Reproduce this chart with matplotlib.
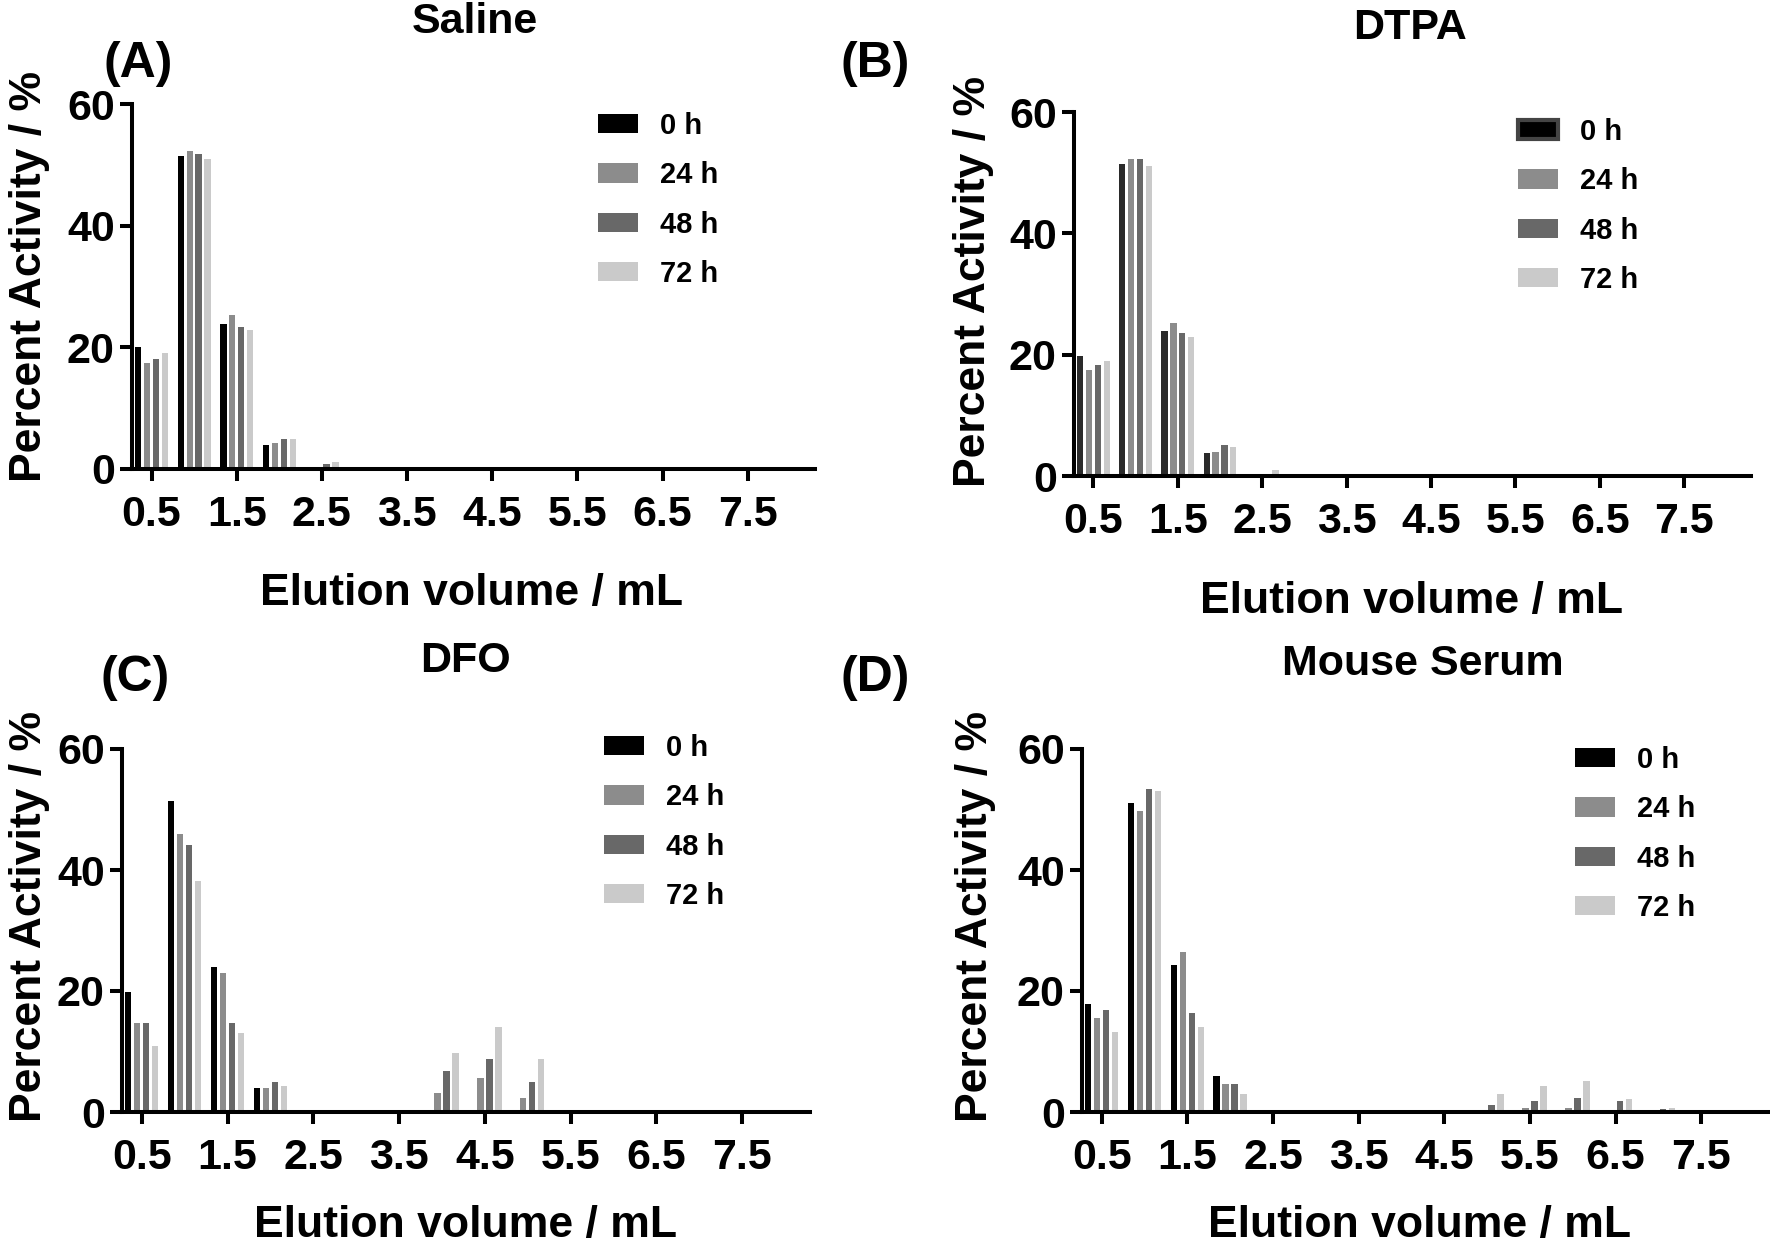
import matplotlib
matplotlib.use("Agg")
import matplotlib.pyplot as plt
import numpy as np

# ---------------- data ----------------
volumes = [0.5, 1.0, 1.5, 2.0, 2.5, 3.0, 3.5, 4.0, 4.5, 5.0, 5.5, 6.0, 6.5, 7.0, 7.5, 8.0]
xtick_vals = [0.5, 1.5, 2.5, 3.5, 4.5, 5.5, 6.5, 7.5]
xtick_labels = ["0.5", "1.5", "2.5", "3.5", "4.5", "5.5", "6.5", "7.5"]
ytick_vals = [0, 20, 40, 60]
series_labels = ["0 h", "24 h", "48 h", "72 h"]

saline_0h  = [20.0, 51.4, 23.9, 3.9, 0, 0, 0, 0, 0, 0, 0, 0, 0, 0, 0, 0]
saline_24h = [17.5, 52.3, 25.3, 4.2, 0, 0, 0, 0, 0, 0, 0, 0, 0, 0, 0, 0]
saline_48h = [18.1, 51.7, 23.4, 4.9, 0.8, 0, 0, 0, 0, 0, 0, 0, 0, 0, 0, 0]
saline_72h = [19.1, 51.0, 22.9, 4.9, 1.1, 0, 0, 0, 0, 0, 0, 0, 0, 0, 0, 0]

dtpa_0h  = [19.8, 51.5, 23.9, 3.8, 0, 0, 0, 0, 0, 0, 0, 0, 0, 0, 0, 0]
dtpa_24h = [17.5, 52.3, 25.2, 4.0, 0, 0, 0, 0, 0, 0, 0, 0, 0, 0, 0, 0]
dtpa_48h = [18.3, 52.3, 23.5, 5.1, 0, 0, 0, 0, 0, 0, 0, 0, 0, 0, 0, 0]
dtpa_72h = [19.0, 51.1, 22.9, 4.8, 1.0, 0, 0, 0, 0, 0, 0, 0, 0, 0, 0, 0]

dfo_0h  = [19.9, 51.4, 23.9, 3.9, 0, 0, 0, 0, 0, 0, 0, 0, 0, 0, 0, 0]
dfo_24h = [14.7, 46.0, 22.9, 3.9, 0, 0, 0, 3.2, 5.7, 2.3, 0, 0, 0, 0, 0, 0]
dfo_48h = [14.7, 44.2, 14.7, 4.9, 0, 0, 0, 6.7, 8.7, 4.9, 0, 0, 0, 0, 0, 0]
dfo_72h = [10.9, 38.2, 13.1, 4.3, 0, 0, 0, 9.7, 14.1, 8.7, 0, 0, 0, 0, 0, 0]

serum_0h  = [17.9, 51.0, 24.3, 5.9, 0, 0, 0, 0, 0, 0, 0, 0, 0, 0, 0, 0]
serum_24h = [15.5, 49.8, 26.4, 4.7, 0, 0, 0, 0, 0, 0, 0.7, 0.7, 0, 0, 0, 0]
serum_48h = [16.8, 53.4, 16.3, 4.7, 0, 0, 0, 0, 0, 1.2, 1.8, 2.3, 1.8, 0.5, 0, 0]
serum_72h = [13.3, 53.0, 14.1, 2.9, 0, 0, 0, 0, 0, 3.0, 4.3, 5.1, 2.1, 0.7, 0, 0]

panels = [
    dict(title="Saline", letter="(A)", data=[saline_0h, saline_24h, saline_48h, saline_72h]),
    dict(title="DTPA", letter="(B)", data=[dtpa_0h, dtpa_24h, dtpa_48h, dtpa_72h]),
    dict(title="DFO", letter="(C)", data=[dfo_0h, dfo_24h, dfo_48h, dfo_72h]),
    dict(title="Mouse Serum", letter="(D)", data=[serum_0h, serum_24h, serum_48h, serum_72h]),
]

# ---------------- style / layout ----------------
W, H = 1770, 1251
FONT = ["Liberation Sans", "DejaVu Sans"]
plt.rcParams["font.family"] = FONT
plt.rcParams["font.weight"] = "bold"

colors = ["#000000", "#8c8c8c", "#686868", "#cacaca"]

# pixel layout: axes (left, right, y0px, y60px); titles, letters, labels (centres)
layout = [
    dict(ax=(132, 815, 469, 104), title=(475, 22), letter=(138, 64), xl=(471, 594), yl=(30, 277),
         leg=(598, 112)),
    dict(ax=(1074, 1751, 476, 112), title=(1410, 28), letter=(875, 64), xl=(1411, 602), yl=(974, 282),
         leg=(1518, 118)),
    dict(ax=(122, 810, 1112, 749), title=(465, 661), letter=(135, 678), xl=(465, 1226), yl=(30, 917),
         leg=(604, 734)),
    dict(ax=(1082, 1769, 1112, 749), title=(1423, 664), letter=(875, 678), xl=(1420, 1226), yl=(976, 917),
         leg=(1575, 746)),
]

def fx(px):
    return px / W

def fy(py):
    return 1 - py / H

fig = plt.figure(figsize=(W / 100, H / 100), dpi=100)

slot = 0.105
bw = 0.075
x = np.array(volumes)

for i, (p, L) in enumerate(zip(panels, layout)):
    l, r, y0, y60 = L["ax"]
    ax = fig.add_axes([fx(l), fy(y0), (r - l) / W, (y0 - y60) / H])
    handles = []
    for k, vals in enumerate(p["data"]):
        c = colors[k]
        if i == 1 and k == 0:
            c = "#2a2a2a"
        b = ax.bar(x + (k - 1.5) * slot, vals, width=bw, color=c, linewidth=0,
                   label=series_labels[k], zorder=1)
        handles.append(b)
    ax.set_xlim(0.27, 8.29)
    ax.set_ylim(0, 60)
    ax.set_xticks(xtick_vals)
    ax.set_xticklabels(xtick_labels)
    ax.set_yticks(ytick_vals)
    ax.set_yticklabels([str(v) for v in ytick_vals])
    for s in ["top", "right"]:
        ax.spines[s].set_visible(False)
    for s in ["left", "bottom"]:
        ax.spines[s].set_linewidth(2.9)
        ax.spines[s].set_zorder(3)
    ax.tick_params(axis="both", direction="out", length=8.5, width=2.9, labelsize=31)
    ax.tick_params(axis="x", pad=10)
    ax.tick_params(axis="y", pad=4)
    for t in ax.get_xticklabels() + ax.get_yticklabels():
        t.set_fontweight("bold")

    ax.set_xlabel("Elution volume / mL", fontsize=32, fontweight="bold")
    ax.xaxis.set_label_coords(fx(L["xl"][0]), fy(L["xl"][1]), transform=fig.transFigure)
    ax.xaxis.label.set_va("center")
    ax.set_ylabel("Percent Activity / %", fontsize=32, fontweight="bold")
    ax.yaxis.set_label_coords(fx(L["yl"][0]), fy(L["yl"][1]), transform=fig.transFigure)
    ax.yaxis.label.set_va("center")
    ax.yaxis.label.set_ha("center")

    fig.text(fx(L["title"][0]), fy(L["title"][1]), p["title"], fontsize=31, fontweight="bold",
             ha="center", va="center")
    fig.text(fx(L["letter"][0]), fy(L["letter"][1]), p["letter"], fontsize=36, fontweight="bold",
             ha="center", va="center")

    leg = ax.legend(handles=handles, labels=series_labels, loc="upper left",
                    bbox_to_anchor=(fx(L["leg"][0]), fy(L["leg"][1])), bbox_transform=fig.transFigure,
                    frameon=False, fontsize=21, borderpad=0, borderaxespad=0,
                    handlelength=1.37, handleheight=0.65, handletextpad=0.75, labelspacing=0.73)
    for t in leg.get_texts():
        t.set_fontweight("bold")
    if i == 1:
        h0 = leg.legend_handles[0]
        h0.set_facecolor("#000000")
        h0.set_edgecolor("#444444")
        h0.set_linewidth(3)

fig.savefig("out.png", dpi=100)
